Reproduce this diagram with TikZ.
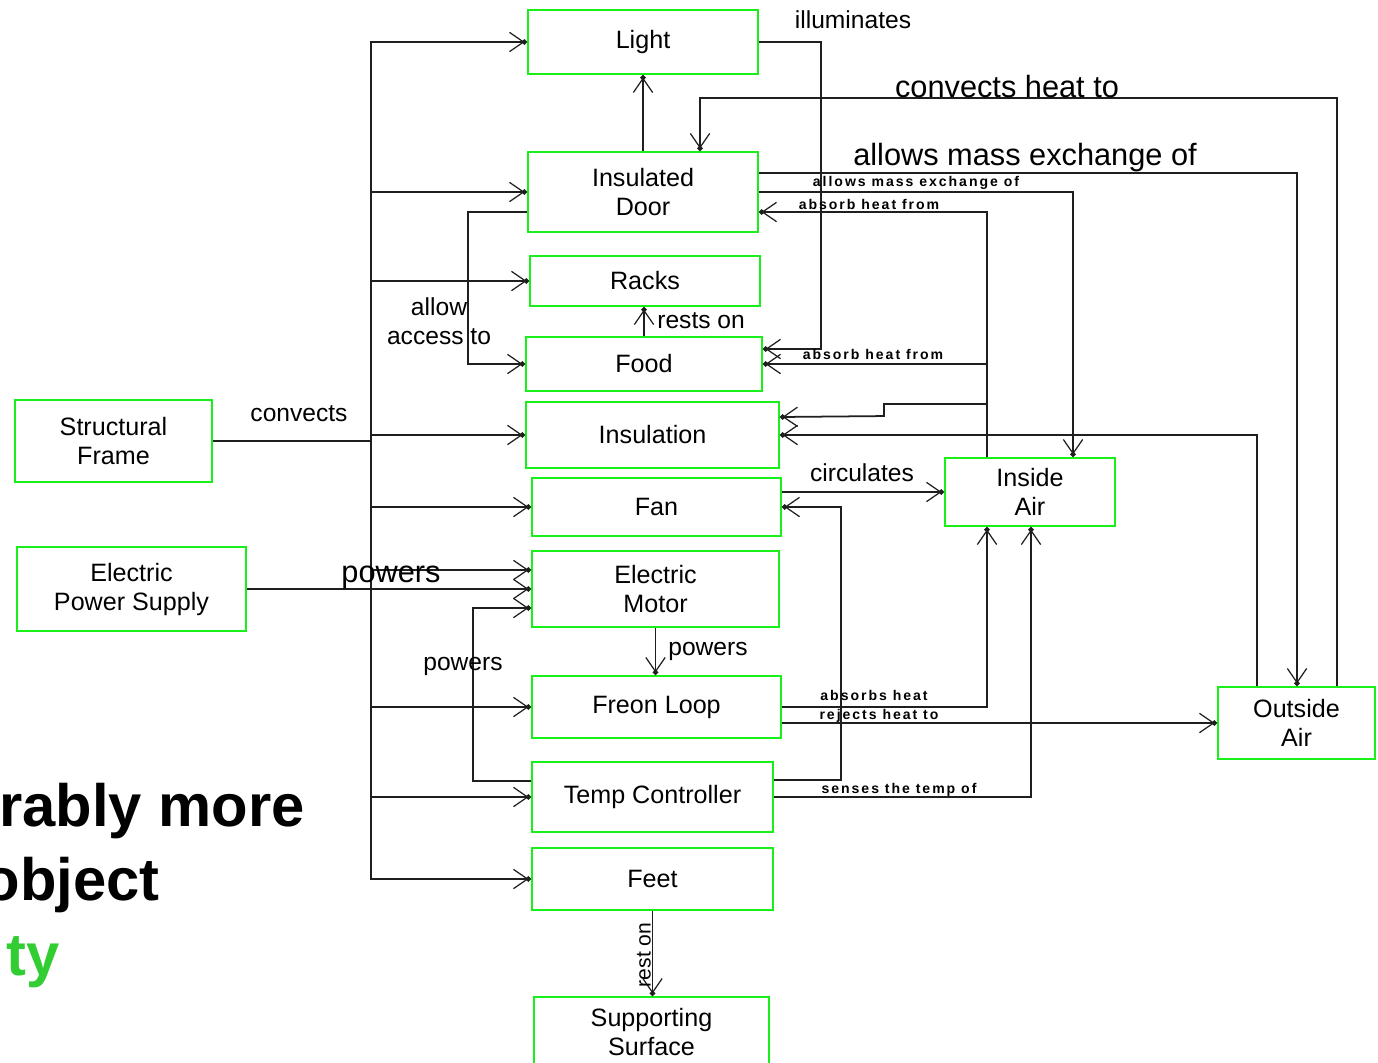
\documentclass[tikz,border=0pt]{standalone}
\usepackage{fontspec}
\setmainfont{Liberation Sans}
\newfontfamily\tinylbl[LetterSpace=14]{Liberation Sans}
\usetikzlibrary{arrows.meta,positioning,calc}
\definecolor{boxgreen}{RGB}{25,240,25}
\definecolor{slidegreen}{RGB}{50,205,50}

\begin{document}
\begin{tikzpicture}[x=0.02cm, y=-0.02cm,
  box/.style={draw=boxgreen, line width=1.1pt, align=center, inner sep=0pt,
              font=\fontsize{14.3}{16.5}\selectfont},
  arr/.style={-{Straight Barb[length=8pt,width=11pt,line width=0.7pt,sep=-1.6pt]Circle[length=3pt]},
              line width=1pt, draw=black!88},
  lbl/.style={font=\fontsize{14}{16.5}\selectfont, inner sep=0pt},
  biglbl/.style={font=\fontsize{17.5}{20}\selectfont, inner sep=0pt},
  tiny/.style={font=\tinylbl\fontsize{8}{10}\selectfont\bfseries, inner sep=0pt},
  slide/.style={font=\fontsize{34}{36}\selectfont\bfseries, inner sep=0pt, anchor=base east}]
  \useasboundingbox (0,0) rectangle (1378,1062);
  \clip (0,0) rectangle (1378,1062);

  \node[box, minimum width=4.6cm, minimum height=1.28cm] (light) at (643,42) {Light};
  \node[box, minimum width=4.6cm, minimum height=1.6cm] (door) at (643,192) {Insulated\\Door};
  \node[box, minimum width=4.6cm, minimum height=1.0cm] (racks) at (645,281) {Racks};
  \node[box, minimum width=4.72cm, minimum height=1.08cm] (food) at (644,364) {Food};
  \node[box, minimum width=5.06cm, minimum height=1.32cm] (insul) at (652.5,435) {Insulation};
  \node[box, minimum width=4.98cm, minimum height=1.16cm] (fan) at (656.5,507) {Fan};
  \node[box, minimum width=4.94cm, minimum height=1.52cm] (motor) at (655.5,589) {Electric\\Motor};
  \node[box, minimum width=4.98cm, minimum height=1.24cm] (freon) at (656.5,707) {Freon Loop};
  \node[box, minimum width=4.82cm, minimum height=1.4cm] (tctrl) at (652.5,797) {Temp Controller};
  \node[box, minimum width=4.82cm, minimum height=1.24cm] (feet) at (652.5,879) {Feet};
  \node[box, minimum width=4.7cm, minimum height=1.4cm] (surf) at (651.5,1032) {Supporting\\Surface};
  \node[box, minimum width=3.94cm, minimum height=1.64cm] (frame) at (113.5,441) {Structural\\Frame};
  \node[box, minimum width=4.58cm, minimum height=1.68cm] (supply) at (131.5,589) {Electric\\Power Supply};
  \node[box, minimum width=3.4cm, minimum height=1.36cm] (inair) at (1030,492) {Inside\\Air};
  \node[box, minimum width=3.14cm, minimum height=1.44cm] (outair) at (1296.5,723) {Outside\\Air};

  \coordinate (fj) at (371,441);
  \draw[line width=1pt, draw=black!88] (frame.east) -- (fj);
  \foreach \t in {light,door,racks,insul,fan,freon,tctrl,feet}
    \draw[arr] (fj) |- (\t.west);
  \draw[arr] (fj) |- ($(motor.west)+(0,-19)$);
  \node[lbl] at (299,414) {convects};

  \draw[arr] (supply.east) -- (motor.west);
  \node[biglbl] at (391,577) {powers};
  \draw[arr] ($(tctrl.west)+(0,-16)$) -- ++(-58,0) |- ($(motor.west)+(0,19)$);
  \node[lbl] at (463,666) {powers};

  \draw[arr] ($(door.west)+(0,20)$) -- ++(-59,0) |- (food.west);
  \node[lbl, align=center] at (439,321) {allow\\access to};
  \draw[arr] (door.north) -- (light.south);
  \draw[arr] (food.north) -- (food.north |- racks.south);
  \node[lbl, anchor=west] at (657,321) {rests on};
  \draw[arr] (motor.south) -- (motor.south |- freon.north);
  \node[lbl, anchor=west] at (668,651) {powers};
  \draw[arr] (feet.south) -- (feet.south |- surf.north);
  \node[lbl, rotate=90, font=\fontsize{12}{14}\selectfont] at (644,955) {rest on};

  \draw[arr] (light.east) -| ($(food.east)+(58,-15)$) -- ($(food.east)+(0,-15)$);
  \node[lbl] at (853,20) {illuminates};
  \draw[arr] ($(outair.north)+(40.5,0)$) -- ++(0,-588) -| ($(door.north)+(57,0)$);
  \node[biglbl] at (1007,87) {convects heat to};
  \draw[arr] ($(door.east)+(0,-19)$) -| ($(outair.north)+(0.5,0)$);
  \node[biglbl] at (1025,158) {allows mass exchange of};
  \draw[arr] (door.east) -| ($(inair.north)+(43,0)$);
  \node[tiny] at (916,183) {allows mass exchange of};
  \draw[arr] ($(inair.north)+(-43,0)$) |- ($(door.east)+(0,20)$);
  \node[tiny] at (869,204) {absorb heat from};
  \draw[arr] ($(inair.north)+(-43,0)$) |- (food.east);
  \node[tiny] at (873,354) {absorb heat from};
  \draw[arr] ($(inair.north)+(-43,-53)$) -- ++(-103,0) -- ++(0,12) -- ($(insul.east)+(0,-18)$);
  \draw[arr] ($(outair.north)+(-39.5,0)$) |- (insul.east);

  \draw[arr] ($(fan.east)+(0,-15)$) -- (inair.west);
  \node[lbl] at (862,473) {circulates};
  \draw[arr] ($(tctrl.east)+(0,-17)$) -- ++(67,0) |- (fan.east);
  \draw[arr] (freon.east) -| ($(inair.south)+(-43,0)$);
  \node[tiny] at (874,695) {absorbs heat};
  \draw[arr] ($(freon.east)+(0,16)$) -- (outair.west);
  \node[tiny] at (879,716) {rejects heat to};
  \draw[arr] (tctrl.east) -| ($(inair.south)+(1,0)$);
  \node[tiny] at (899,790) {senses the temp of};

  \node[slide] at (305,826) {rably more};
  \node[slide] at (160,900) {object};
  \node[slide, text=slidegreen] at (60,975) {ty};
\end{tikzpicture}
\end{document}
